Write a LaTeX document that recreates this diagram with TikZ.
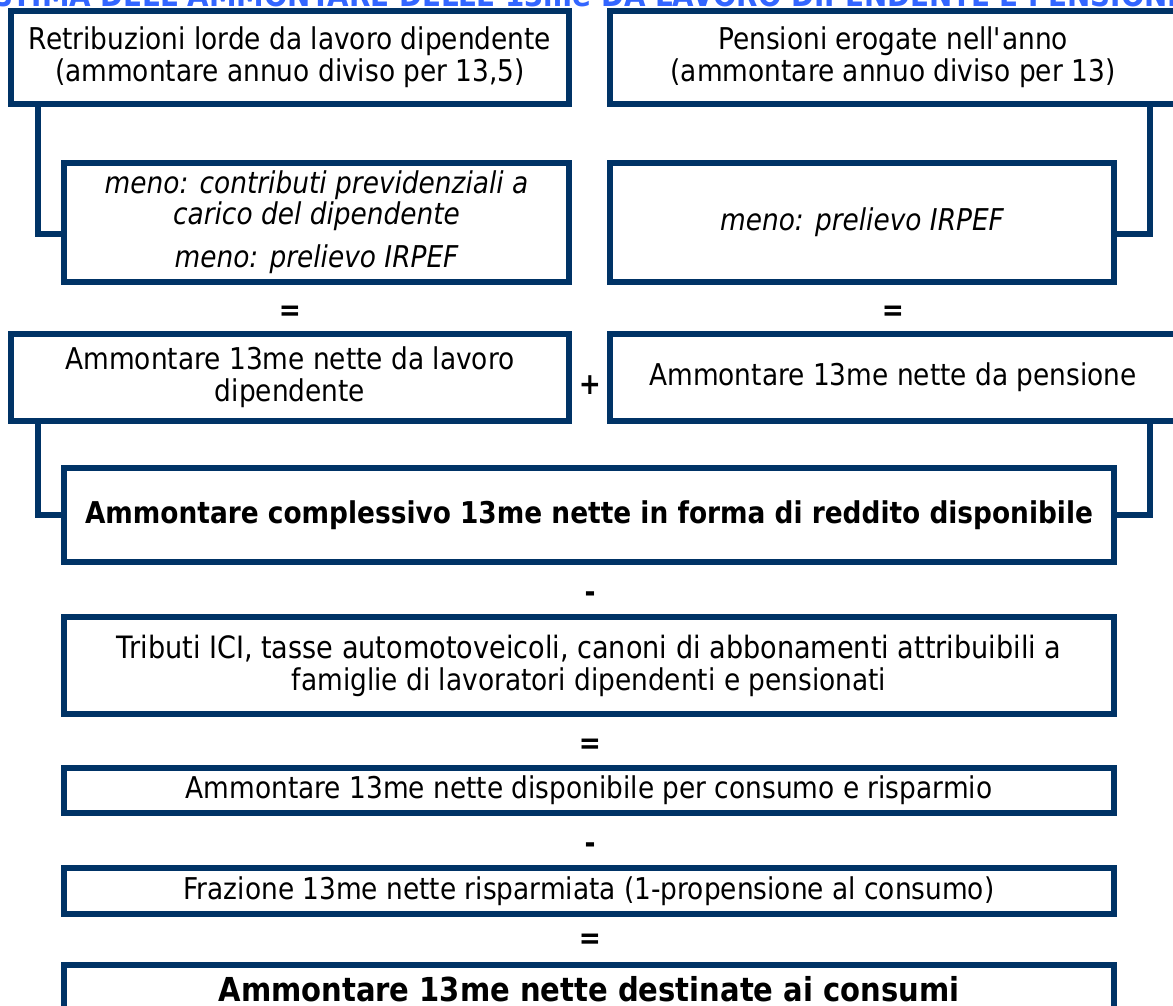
\documentclass[tikz,border=0pt]{standalone}
\usepackage{fontspec}
\setmainfont{DejaVu Sans}[FakeStretch=0.88]
\definecolor{navy}{RGB}{0,51,102}
\definecolor{ttl}{RGB}{51,102,255}
\begin{document}
\begin{tikzpicture}[x=1pt,y=-1pt,
  box/.style={draw=navy, line width=6pt, rectangle, inner sep=0pt, align=center, text=black, font=\fontsize{30}{32}\selectfont},
  boldbox/.style={box, font=\fontsize{30}{32}\selectfont\bfseries},
  itbox/.style={box, font=\fontsize{30}{31}\selectfont\itshape},
  conn/.style={draw=navy, line width=6pt},
  op/.style={font=\fontsize{30}{32}\selectfont\bfseries, inner sep=0pt, text=black},
  titlestyle/.style={font=\fontsize{31.5}{32}\selectfont\bfseries, text=ttl, anchor=base, inner sep=0pt}]
\useasboundingbox (0,0) rectangle (1173,1005);
\clip (0,0) rectangle (1173,1005);
\fill[white] (0,0) rectangle (1173,1005);
\node[titlestyle] (title) at (590,6.5) {STIMA DELL\textquotesingle AMMONTARE DELLE 13me DA LAVORO DIPENDENTE E PENSIONE};
\node[box, minimum width=558pt, minimum height=93pt] (b1) at (290,57.5) {Retribuzioni lorde da lavoro dipendente\\(ammontare annuo diviso per 13,5)};
\node[box, minimum width=566pt, minimum height=93pt] (b3) at (893,57.5) {Pensioni erogate nell\textquotesingle anno\\(ammontare annuo diviso per 13)};
\node[itbox, minimum width=505pt, minimum height=119pt] (b2) at (316.5,222.5) {\raisebox{0pt}[\height][\dimexpr\depth+3pt]{}meno: contributi previdenziali a\\carico del dipendente\\[12pt]meno: prelievo IRPEF};
\node[itbox, minimum width=504pt, minimum height=119pt] (b6) at (862,222.5) {meno: prelievo IRPEF};
\node[op] (eq1) at (290,313) {=};
\node[op] (eq2) at (893,313) {=};
\node[box, minimum width=558pt, minimum height=86.5pt] (b4) at (290,377.25) {Ammontare 13me nette da lavoro\\dipendente};
\node[box, minimum width=566pt, minimum height=86.5pt] (b5) at (893,377.25) {Ammontare 13me nette da pensione};
\node[op] (plus) at (590,385) {+};
\node[boldbox, minimum width=1050pt, minimum height=94pt] (b7) at (589,515) {Ammontare complessivo 13me nette in forma di reddito disponibile};
\node[op] (m1) at (590,597) {-};
\node[box, minimum width=1050pt, minimum height=97pt] (b8) at (589,665.5) {\fontsize{30.8}{33}\selectfont Tributi ICI, tasse automotoveicoli, canoni di abbonamenti attribuibili a\\famiglie di lavoratori dipendenti e pensionati};
\node[op] (eq3) at (590,746) {=};
\node[box, minimum width=1050pt, minimum height=45pt] (b9) at (589,790.5) {Ammontare 13me nette disponibile per consumo e risparmio};
\node[op] (m2) at (590,848) {-};
\node[box, minimum width=1050pt, minimum height=46pt] (b10) at (589,891) {Frazione 13me nette risparmiata (1-propensione al consumo)};
\node[op] (eq4) at (590,941) {=};
\node[box, minimum width=1050pt, minimum height=80pt] (b11) at (589,1005) {};
\node[font=\fontsize{33}{35}\selectfont\bfseries, inner sep=0pt] (t11) at (589,989) {Ammontare 13me nette destinate ai consumi};
\draw[conn] ([xshift=30pt]b1.south west) |- ([yshift=-11.5pt]b2.west);
\draw[conn] ([xshift=-29pt]b3.south east) |- ([yshift=-11.5pt]b6.east);
\draw[conn] ([xshift=30pt]b4.south west) |- (b7.west);
\draw[conn] ([xshift=-29pt]b5.south east) |- (b7.east);
\end{tikzpicture}
\end{document}
